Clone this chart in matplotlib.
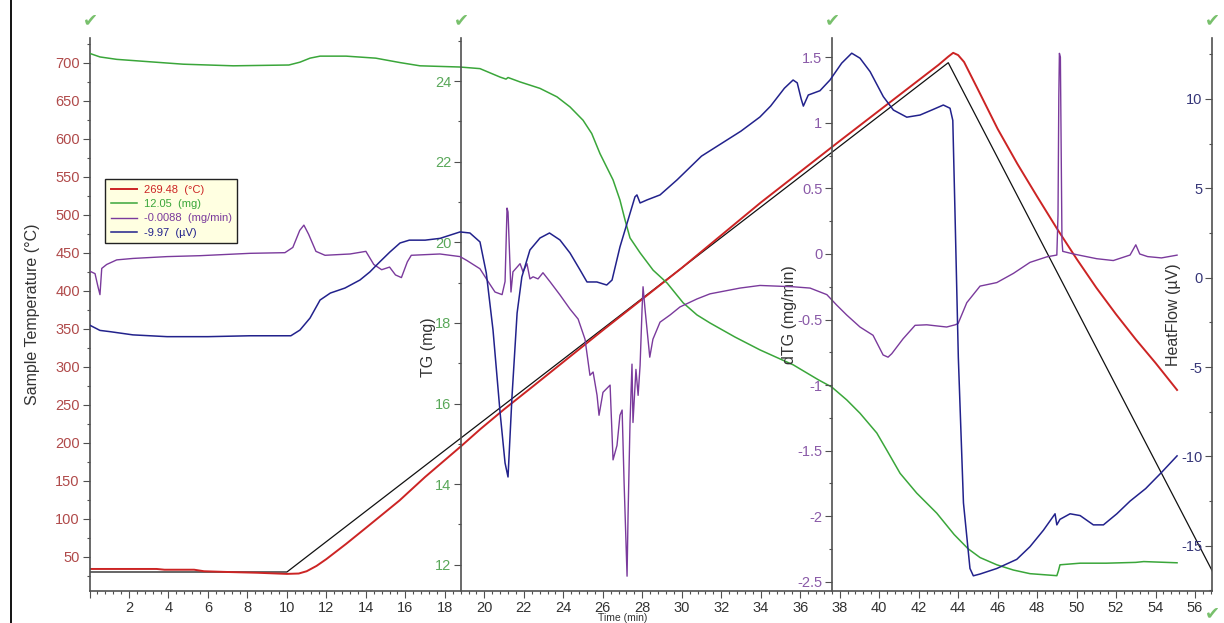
import matplotlib
matplotlib.use('Agg')
import matplotlib.pyplot as plt
from matplotlib.lines import Line2D
from matplotlib.ticker import MultipleLocator, FuncFormatter

plt.rcParams['font.family'] = ['Liberation Sans', 'DejaVu Sans']
plt.rcParams['axes.unicode_minus'] = False

# ---- sample temperature (°C) ----
temp_t = [0, 3.4, 3.8, 5.3, 5.8, 7.0, 8.5, 10.0, 10.6, 11.0, 11.5, 12.0, 13.0, 14.0,
          15.7, 17.0, 18.8, 19.8, 21.0, 22.5, 26.0, 30.0, 32.0, 34.0, 38.0, 43.0,
          43.5, 43.75, 44.0, 44.3, 45.0, 46.0, 47.0, 48.0, 49.0, 50.0, 51.0, 52.0,
          53.0, 54.0, 55.09]
temp_v = [34, 34, 33, 33, 31, 30, 29, 27.5, 28, 31, 38, 47, 67, 88,
          124, 155, 195, 218, 244, 275, 348, 430, 473, 516, 597, 697,
          708, 713, 710, 701, 665, 613, 567, 524, 482, 442, 404, 369,
          336, 305, 269.48]

# ---- programmed temperature (°C) ----
prog_t = [0, 10.0, 43.5, 57.0]
prog_v = [30, 30, 700, 25]

# ---- TG (mg) ----
tg_t = [0.0, 0.53, 1.38, 3.06, 4.75, 7.28, 10.1, 10.66, 11.17, 11.68, 13.0, 14.5,
        15.73, 16.74, 18.77, 19.78, 20.8, 21.1, 21.2, 21.81, 22.82, 23.68, 24.34,
        25.0, 25.44, 25.86, 26.52, 26.87, 27.13, 27.38, 27.89, 28.55, 29.26, 30.07,
        30.77, 31.43, 32.7, 33.97, 35.65, 36.92, 37.6, 38.36, 39.03, 39.88, 40.38,
        41.06, 41.9, 42.92, 43.8, 44.5, 45.11, 45.96, 46.8, 47.64, 49.0, 49.08,
        49.16, 50.18, 51.5, 53.0, 53.4, 55.09]
tg_v = [24.69, 24.6, 24.54, 24.48, 24.42, 24.38, 24.4, 24.47, 24.57, 24.62, 24.62, 24.57,
        24.46, 24.38, 24.35, 24.31, 24.1, 24.05, 24.09, 23.98, 23.82, 23.61, 23.36,
        23.03, 22.7, 22.2, 21.55, 21.05, 20.55, 20.11, 19.74, 19.31, 18.99, 18.5,
        18.2, 18.0, 17.65, 17.33, 16.96, 16.59, 16.41, 16.09, 15.76, 15.27, 14.85,
        14.27, 13.78, 13.28, 12.75, 12.4, 12.18, 12.0, 11.87, 11.78, 11.73, 11.85,
        12.0, 12.04, 12.04, 12.06, 12.08, 12.05]

# ---- dTG (mg/min) ----
dtg_t = [0.0, 0.28, 0.43, 0.53, 0.62, 0.87, 1.38, 2.2, 3.93, 5.6, 8.13, 9.9, 10.3,
         10.65, 10.86, 11.1, 11.47, 11.93, 13.2, 14.0, 14.4, 14.8, 15.2, 15.5, 15.8,
         16.1, 16.3, 17.75, 18.77, 19.12, 19.78, 20.19, 20.54, 20.9, 21.05, 21.15,
         21.2, 21.35, 21.45, 21.81, 21.96, 22.16, 22.31, 22.47, 22.72, 22.97, 23.33,
         23.83, 24.34, 24.75, 25.1, 25.35, 25.51, 25.71, 25.81, 26.01, 26.37, 26.52,
         26.72, 26.87, 26.98, 27.08, 27.23, 27.28, 27.38, 27.48, 27.53, 27.68, 27.79,
         27.89, 27.99, 28.04, 28.14, 28.38, 28.54, 28.9, 29.41, 29.91, 30.77, 31.43,
         32.95, 33.96, 35.64, 36.5, 37.35, 37.85, 38.36, 39.03, 39.69, 40.2, 40.45,
         40.64, 41.21, 41.82, 42.41, 43.42, 43.85, 44.0, 44.44, 45.11, 45.96, 46.8,
         47.64, 48.49, 49.0, 49.06, 49.1, 49.13, 49.18, 49.22, 49.26, 49.3, 49.84,
         51.02, 51.86, 52.71, 53.0, 53.2, 53.6, 54.3, 55.09]
dtg_v = [-0.13, -0.15, -0.25, -0.31, -0.11, -0.08, -0.045, -0.034, -0.02, -0.013, 0.005, 0.01, 0.05,
         0.18, 0.22, 0.15, 0.02, -0.01, 0.0, 0.02, -0.08, -0.12, -0.1, -0.16, -0.18,
         -0.06, -0.01, 0.0, -0.02, -0.05, -0.113, -0.21, -0.29, -0.31, -0.21, 0.35,
         0.32, -0.29, -0.136, -0.074, -0.136, -0.074, -0.19, -0.174, -0.19, -0.143, -0.212,
         -0.312, -0.42, -0.496, -0.65, -0.925, -0.9, -1.078, -1.23, -1.055, -1.0, -1.57,
         -1.46, -1.23, -1.19, -1.745, -2.457, -1.997, -1.285, -0.84, -1.285, -0.88, -1.078,
         -0.85, -0.42, -0.25, -0.42, -0.787, -0.65, -0.52, -0.465, -0.404, -0.343, -0.304,
         -0.26, -0.24, -0.25, -0.26, -0.31, -0.39, -0.466, -0.557, -0.62, -0.77, -0.787,
         -0.76, -0.647, -0.544, -0.54, -0.557, -0.54, -0.53, -0.371, -0.245, -0.218, -0.148,
         -0.064, -0.022, -0.008, 0.3, 1.2, 1.53, 1.5, 0.8, 0.1, 0.02, 0.0,
         -0.036, -0.05, -0.008, 0.07, 0.0, -0.02, -0.03, -0.0088]

# ---- HeatFlow (µV) ----
hf_t = [0.0, 0.53, 1.04, 2.2, 3.93, 6.0, 8.13, 10.2, 10.66, 11.17, 11.68, 12.2, 12.94,
        13.7, 14.2, 14.7, 15.22, 15.73, 16.2, 17.0, 17.76, 18.77, 19.27, 19.78, 20.1,
        20.44, 20.8, 21.05, 21.2, 21.4, 21.66, 21.9, 22.31, 22.82, 23.3, 23.83, 24.34,
        24.85, 25.2, 25.7, 26.2, 26.47, 26.87, 27.28, 27.63, 27.73, 27.89, 28.24, 28.9,
        29.76, 31.0, 32.0, 33.0, 33.96, 34.5, 35.2, 35.64, 35.85, 36.05, 36.16, 36.41,
        37.0, 37.51, 38.1, 38.61, 39.03, 39.54, 40.21, 40.72, 41.4, 42.07, 42.75, 43.25,
        43.59, 43.73, 43.84, 44.01, 44.27, 44.6, 44.77, 45.11, 45.96, 46.97, 47.64, 48.32,
        48.91, 49.0, 49.16, 49.67, 50.18, 50.85, 51.36, 52.04, 52.71, 53.5, 54.3, 55.09]
hf_v = [-2.65, -2.95, -3.02, -3.2, -3.3, -3.3, -3.25, -3.25, -2.93, -2.26, -1.25, -0.86, -0.58,
        -0.13, 0.32, 0.88, 1.44, 1.94, 2.1, 2.1, 2.2, 2.56, 2.5, 2.0, 0.26,
        -2.93, -7.57, -10.37, -11.15, -6.68, -1.98, 0.04, 1.55, 2.22, 2.5, 2.11, 1.38,
        0.43, -0.24, -0.24, -0.41, -0.13, 1.72, 3.23, 4.52, 4.63, 4.18, 4.35, 4.63,
        5.47, 6.8, 7.5, 8.2, 8.99, 9.6, 10.6, 11.06, 10.9, 10.0, 9.6, 10.22,
        10.46, 11.06, 12.0, 12.56, 12.28, 11.53, 10.13, 9.38, 8.98, 9.1, 9.42, 9.66,
        9.48, 8.8, 3.7, -4.45, -12.6, -16.27, -16.68, -16.58, -16.27, -15.76, -15.05, -14.13,
        -13.21, -13.83, -13.52, -13.21, -13.31, -13.83, -13.83, -13.21, -12.5, -11.8, -10.9, -9.97]

legend_labels = ['269.48  (°C)', '12.05  (mg)', '-0.0088  (mg/min)', '-9.97  (µV)']

RED = '#cc2424'
GREEN = '#3aa63a'
PURPLE = '#7a3a9c'
NAVY = '#22228c'
SPINE = '#505050'


def style_axis(ax, frac, tick_color):
    for side in ['top', 'right', 'bottom']:
        ax.spines[side].set_visible(False)
    ax.spines['left'].set_visible(True)
    ax.spines['left'].set_position(('axes', frac))
    ax.spines['left'].set_color(SPINE)
    ax.spines['left'].set_linewidth(1.2)
    ax.yaxis.set_ticks_position('left')
    ax.yaxis.set_label_position('left')
    ax.tick_params(axis='y', which='major', length=5, width=0.8, color=SPINE,
                   labelcolor=tick_color, labelsize=10.5, pad=2)
    ax.tick_params(axis='y', which='minor', length=2.5, width=0.8, color=SPINE)
    ax.yaxis.set_major_formatter(FuncFormatter(lambda v, p: '%g' % round(v, 2)))


fig = plt.figure(figsize=(12.24, 6.23), dpi=100)
ax_t = fig.add_axes([89.5 / 1224, 32 / 623, 1122.5 / 1224, 553 / 623])
ax_tg = ax_t.twinx()
ax_dtg = ax_t.twinx()
ax_hf = ax_t.twinx()

# host axis: sample temperature + time axis
style_axis(ax_t, 0.0, '#b04a4a')
ax_t.spines['bottom'].set_visible(True)
ax_t.spines['bottom'].set_color(SPINE)
ax_t.spines['bottom'].set_linewidth(1.2)
ax_t.set_xlim(0, 56.86)
ax_t.set_ylim(5, 732.5)
ax_t.yaxis.set_major_locator(MultipleLocator(50))
ax_t.yaxis.set_minor_locator(MultipleLocator(25))
ax_t.xaxis.set_major_locator(MultipleLocator(2))
ax_t.xaxis.set_minor_locator(MultipleLocator(0.4))
ax_t.xaxis.set_major_formatter(FuncFormatter(lambda v, p: '' if v < 1 else '%d' % v))
ax_t.tick_params(axis='x', which='major', length=5, width=0.8, color=SPINE,
                 labelcolor='#333333', labelsize=10.5, pad=2)
ax_t.tick_params(axis='x', which='minor', length=2.5, width=0.8, color=SPINE)
ax_t.set_ylabel('Sample Temperature (°C)', fontsize=11.5, color='#333333')
ax_t.yaxis.set_label_coords(-0.044, 0.5)

style_axis(ax_tg, 0.331, '#5aa85a')
ax_tg.set_ylim(11.35, 25.07)
ax_tg.yaxis.set_major_locator(MultipleLocator(2))
ax_tg.yaxis.set_minor_locator(MultipleLocator(1))
ax_tg.set_ylabel('TG (mg)', fontsize=11.5, color='#333333')
ax_tg.yaxis.set_label_coords(0.309, 0.44)

style_axis(ax_dtg, 0.6615, '#8a5aa8')
ax_dtg.set_ylim(-2.57, 1.647)
ax_dtg.yaxis.set_major_locator(MultipleLocator(0.5))
ax_dtg.yaxis.set_minor_locator(MultipleLocator(0.25))
ax_dtg.set_ylabel('dTG (mg/min)', fontsize=11.5, color='#333333')
ax_dtg.yaxis.set_label_coords(0.630, 0.50)

style_axis(ax_hf, 1.0, '#363678')
ax_hf.set_ylim(-17.53, 13.41)
ax_hf.yaxis.set_major_locator(MultipleLocator(5))
ax_hf.yaxis.set_minor_locator(MultipleLocator(2.5))
ax_hf.set_ylabel('HeatFlow (µV)', fontsize=11.5, color='#333333')
ax_hf.yaxis.set_label_coords(0.972, 0.50)

# curves
ax_t.plot(prog_t, prog_v, color='#111111', lw=0.9)
l_temp, = ax_t.plot(temp_t, temp_v, color=RED, lw=1.4)
l_tg, = ax_tg.plot(tg_t, tg_v, color=GREEN, lw=1.1)
l_dtg, = ax_dtg.plot(dtg_t, dtg_v, color=PURPLE, lw=1.0)
l_hf, = ax_hf.plot(hf_t, hf_v, color=NAVY, lw=1.1)

leg = ax_hf.legend([l_temp, l_tg, l_dtg, l_hf], legend_labels, loc='upper left',
                   bbox_to_anchor=(0.0138, 0.745), bbox_transform=ax_t.transAxes,
                   borderaxespad=0, fontsize=8, handlelength=2.4, handletextpad=0.6,
                   borderpad=0.5, labelspacing=0.4, fancybox=False, framealpha=1,
                   facecolor='#ffffe1', edgecolor='#222222')
leg.get_frame().set_linewidth(1.0)
for txt, c in zip(leg.get_texts(), [RED, GREEN, PURPLE, NAVY]):
    txt.set_color(c)

fig.text(623 / 1224, 1 - 618 / 623, 'Time (min)', ha='center', va='center',
         fontsize=7.5, color='#333333')

# left frame edge
fig.add_artist(Line2D([11 / 1224, 11 / 1224], [0, 1], color='black', lw=1.3,
                      transform=fig.transFigure))

# axis markers
for px, py in [(90, 20), (461, 20), (832, 20), (1212, 20), (1212, 613)]:
    fig.text(px / 1224, 1 - py / 623, '\u2714', ha='center', va='center',
             fontsize=13, color='#78c06c', family=['DejaVu Sans'])

fig.savefig('out.png', dpi=100)
